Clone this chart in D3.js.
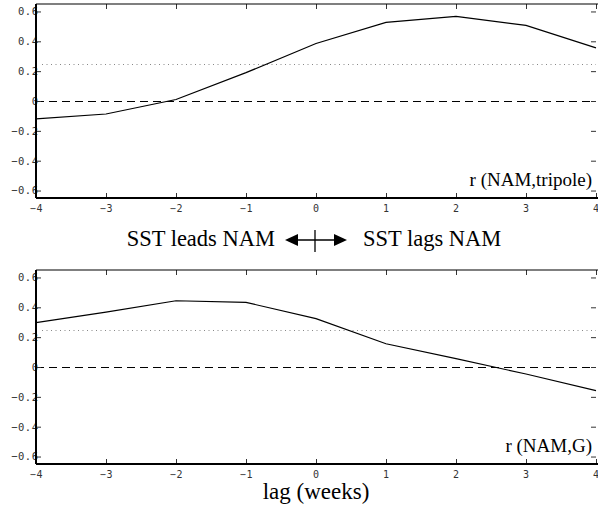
<!DOCTYPE html>
<html>
<head>
<meta charset="utf-8">
<script src="https://cdn.jsdelivr.net/npm/d3@7"></script>
<style>
  body { margin: 0; background: #fff; }
  svg { display: block; }
  .tick text { font-family: "DejaVu Sans Mono", monospace; fill: #333; }
  .lbl { font-family: "Liberation Serif", "Times New Roman", serif; fill: #000; }
</style>
</head>
<body>
<script>
// lag in weeks (negative = SST leads NAM)
var lags = [-4, -3, -2, -1, 0, 1, 2, 3, 4];
// lagged correlation r(NAM, tripole)
var rTripole = [-0.12, -0.087, 0.01, 0.19, 0.385, 0.527, 0.567, 0.507, 0.356];
// lagged correlation r(NAM, G)
var rG = [0.297, 0.368, 0.444, 0.433, 0.324, 0.156, 0.056, -0.047, -0.158];
var yTicks = [-0.6, -0.4, -0.2, 0, 0.2, 0.4, 0.6];
var sigLevel = 0.25;
var panelLabels = ["r (NAM,tripole)", "r (NAM,G)"];

var W = 598, H = 507;
var left = 36, right = 596, ph = 194;

var svg = d3.select("body").append("svg")
    .attr("width", W).attr("height", H);

var x = d3.scaleLinear().domain([-4, 4]).range([left, right]);

function fmtY(d) { return d === 0 ? "0" : d3.format(".1f")(d).replace("-", "\u2212"); }
function fmtX(d) { return String(d).replace("-", "\u2212"); }

function panel(top, values, label) {
    var y = d3.scaleLinear().domain([-0.65, 0.65]).range([top + ph, top]);
    var g = svg.append("g");

    // reference lines (zero and significance level)
    g.append("line")
        .attr("x1", left).attr("x2", right)
        .attr("y1", Math.round(y(0)) + 0.5).attr("y2", Math.round(y(0)) + 0.5)
        .attr("stroke", "#000").attr("stroke-width", 1)
        .attr("stroke-dasharray", "8,5");
    g.append("line")
        .attr("x1", left + 6).attr("x2", right)
        .attr("y1", Math.round(y(sigLevel)) + 0.5).attr("y2", Math.round(y(sigLevel)) + 0.5)
        .attr("stroke", "#888").attr("stroke-width", 1)
        .attr("stroke-dasharray", "1,3.5");

    // data line
    var line = d3.line()
        .x(function(d, i) { return x(lags[i]); })
        .y(function(d) { return y(d); });
    g.append("path")
        .datum(values)
        .attr("d", line)
        .attr("fill", "none")
        .attr("stroke", "#000")
        .attr("stroke-width", 1.2);

    // axes, ticks pointing inward
    var ax = g.append("g")
        .attr("transform", "translate(0," + (top + ph) + ")")
        .call(d3.axisBottom(x).tickValues(lags).tickSize(-5).tickPadding(7).tickFormat(fmtX));
    ax.attr("font-size", 10);
    ax.selectAll("text").attr("letter-spacing", 0.8);

    g.append("g")
        .attr("transform", "translate(0," + top + ")")
        .call(d3.axisTop(x).tickValues(lags).tickSize(-5).tickFormat(""));

    var ay = g.append("g")
        .attr("transform", "translate(" + left + ",0)")
        .call(d3.axisLeft(y).tickValues(yTicks).tickSize(-5).tickPadding(-2.5).tickFormat(fmtY));
    ay.attr("font-size", 10.5);
    ay.selectAll("text").attr("letter-spacing", 0.5);

    g.append("g")
        .attr("transform", "translate(" + right + ",0)")
        .call(d3.axisRight(y).tickValues(yTicks).tickSize(-5).tickFormat(""));

    // frame
    g.selectAll(".domain").remove();
    g.selectAll(".tick line").attr("stroke", "#333");
    g.append("line").attr("x1", left).attr("x2", W)
        .attr("y1", top + ph).attr("y2", top + ph)
        .attr("stroke", "#000").attr("stroke-width", 1.8);
    g.append("line").attr("x1", left).attr("x2", W)
        .attr("y1", top).attr("y2", top)
        .attr("stroke", "#000").attr("stroke-width", 1.2);
    g.append("line").attr("x1", left).attr("x2", left)
        .attr("y1", top).attr("y2", top + ph)
        .attr("stroke", "#000").attr("stroke-width", 2);

    g.append("text").attr("class", "lbl")
        .attr("x", right - 4).attr("y", top + ph - 12)
        .attr("text-anchor", "end")
        .style("font-size", "19px")
        .text(label);
}

panel(4, rTripole, panelLabels[0]);
panel(270, rG, panelLabels[1]);

// lead / lag annotation
svg.append("text").attr("class", "lbl")
    .attr("x", 275).attr("y", 246).attr("text-anchor", "end")
    .style("font-size", "22.5px").text("SST leads NAM");
svg.append("text").attr("class", "lbl")
    .attr("x", 363).attr("y", 246).attr("text-anchor", "start")
    .style("font-size", "22.5px").text("SST lags NAM");

var ar = svg.append("g");
ar.append("line").attr("x1", 295).attr("x2", 337)
    .attr("y1", 240).attr("y2", 240)
    .attr("stroke", "#000").attr("stroke-width", 1.5);
ar.append("path").attr("d", "M285,240 L298,234 L298,246 Z").attr("fill", "#000");
ar.append("path").attr("d", "M347,240 L334,234 L334,246 Z").attr("fill", "#000");
ar.append("line").attr("x1", 315).attr("x2", 315)
    .attr("y1", 230).attr("y2", 252)
    .attr("stroke", "#000").attr("stroke-width", 1.3);

svg.append("text").attr("class", "lbl")
    .attr("x", 316).attr("y", 499).attr("text-anchor", "middle")
    .style("font-size", "23px").text("lag (weeks)");
</script>
</body>
</html>
